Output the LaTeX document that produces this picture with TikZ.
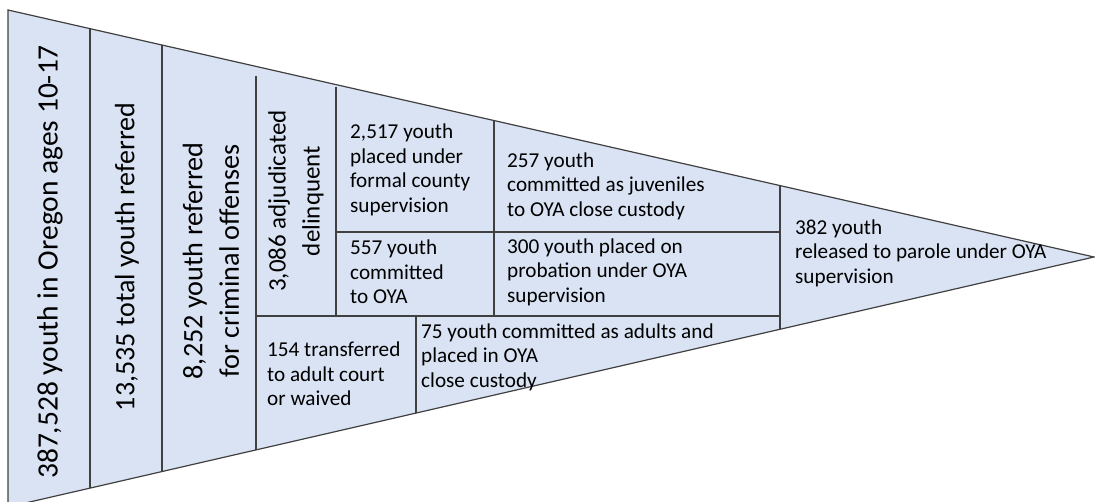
\documentclass[tikz,border=0pt]{standalone}
\usepackage{fontspec}
\setmainfont{Carlito}
\usetikzlibrary{positioning}
\definecolor{funnelfill}{RGB}{218,227,243}
\definecolor{funnelline}{RGB}{64,64,64}

\begin{document}
\begin{tikzpicture}[
  x=1pt,y=-1pt,
  stage/.style={rotate=90,align=center,inner sep=0pt,
    font=\fontsize{29.5}{36}\selectfont},
  substage/.style={rotate=90,align=center,inner sep=0pt,
    font=\fontsize{25}{34}\selectfont},
  outcome/.style={anchor=west,align=left,inner sep=0pt,
    font=\fontsize{21.2}{24.5}\selectfont},
  divider/.style={draw=funnelline,line width=1.1pt}
]
  \useasboundingbox (0,0) rectangle (1095,502);
  \coordinate (topleft) at (8,10);
  \coordinate (tip) at (1094,257);
  \coordinate (botleft) at (8,507);

  \begin{scope}
    \clip (0,0) rectangle (1095,502);
    \fill[funnelfill] (topleft) -- (tip) -- (botleft) -- cycle;
    \begin{scope}
      \clip (topleft) -- (tip) -- (botleft) -- cycle;
      \foreach \x in {90,162,780} {
        \draw[divider] (\x,0) -- (\x,510);
      }
      \draw[divider] (256,76) -- (256,510);
      \draw[divider] (416,316) -- (416,510);
      \draw[divider] (336,87) -- (336,316);
      \draw[divider] (494,100) -- (494,316);
      \draw[divider] (256,316) -- (780,316);
      \draw[divider] (336,232) -- (780,232);
    \end{scope}
    \draw[funnelline,line width=1.2pt] (topleft) -- (tip) -- (botleft) -- cycle;
  \end{scope}

  \node[stage] (population) at (50,262) {387,528 youth in Oregon ages 10-17};
  \node[stage,font=\fontsize{28}{36}\selectfont] (referred) at (127,257) {13,535 total youth referred};
  \node[stage,font=\fontsize{28.2}{36.5}\selectfont] (criminal) at (211,261) {8,252 youth referred\\for criminal offenses};
  \node[substage] (adjudicated) at (296,201) {3,086 adjudicated\\delinquent};

  \node[outcome] (county) at (350,170) {2,517 youth\\placed under\\formal county\\supervision};
  \node[outcome] (committed) at (350,272) {557 youth\\committed\\to OYA};
  \node[outcome] (juvenile) at (507,186) {257 youth\\committed as juveniles\\to OYA close custody};
  \node[outcome] (probation) at (507,272) {300 youth placed on\\probation under OYA\\supervision};
  \node[outcome] (transferred) at (267,374) {154 transferred\\to adult court\\or waived};
  \node[outcome] (adults) at (421,357) {75 youth committed as adults and\\placed in OYA\\close custody};
  \node[outcome] (parole) at (795,253) {382 youth\\released to parole under OYA\\supervision};
\end{tikzpicture}
\end{document}
